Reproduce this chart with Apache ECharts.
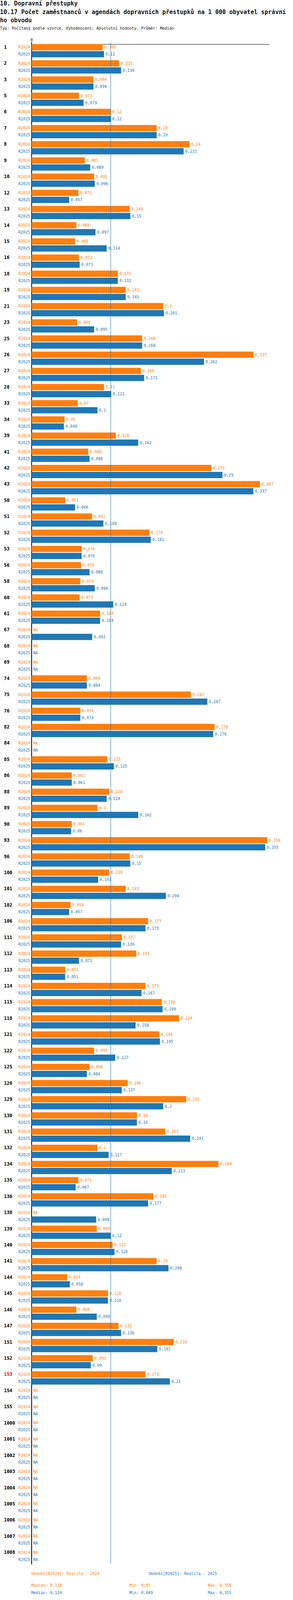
<!DOCTYPE html>
<html lang="cs">
<head>
  <meta charset="UTF-8">
  <title>10.17 Počet zaměstnanců v agendách dopravních přestupků</title>
  <script src="https://cdn.jsdelivr.net/npm/echarts@6.0.0/dist/echarts.min.js"></script>
  <style>
    html, body { margin: 0; padding: 0; background: #fff; overflow: hidden; }
  </style>
</head>
<body>
  <div id="chart" style="width: 750px; height: 4152px;"></div>
<script>
  // obvody
  const categories = ['1', '2', '3', '5', '6', '7', '8', '9', '10', '12',
    '13', '14', '15', '16', '18', '19', '21', '23', '25', '26',
    '27', '28', '33', '34', '39', '41', '42', '43', '50', '51',
    '52', '53', '56', '58', '60', '61', '67', '68', '69', '74',
    '75', '76', '82', '84', '85', '86', '88', '89', '90', '93',
    '96', '100', '101', '102', '106', '111', '112', '113', '114', '115',
    '118', '121', '122', '125', '126', '129', '130', '131', '132', '134',
    '135', '136', '138', '139', '140', '141', '144', '145', '146', '147',
    '151', '152', '153', '154', '155', '1000', '1001', '1002', '1003', '1004',
    '1005', '1006', '1007', '1008']

  // null = NA
  const r2024 = [0.108, 0.133, 0.094, 0.072, 0.12, 0.19, 0.24, 0.081, 0.095, 0.071,
    0.149, 0.068, 0.066, 0.072, 0.131, 0.143, 0.2, 0.069, 0.168, 0.337,
    0.166, 0.11, 0.07, 0.05, 0.128, 0.086, 0.273, 0.347, 0.051, 0.092,
    0.179, 0.076, 0.075, 0.074, 0.073, 0.104, null, null, null, 0.084,
    0.242, 0.074, 0.278, null, 0.115, 0.061, 0.118, 0.1, 0.061, 0.358,
    0.149, 0.118, 0.143, 0.059, 0.177, 0.137, 0.159, 0.051, 0.173, 0.198,
    0.224, 0.194, 0.095, 0.088, 0.146, 0.235, 0.16, 0.203, 0.1, 0.284,
    0.071, 0.185, null, 0.099, 0.123, 0.19, 0.054, 0.116, 0.068, 0.132,
    0.216, 0.093, 0.173, null, null, null, null, null, null, null,
    null, null, null, null]

  const r2025 = [0.11, 0.136, 0.094, 0.079, 0.12, 0.19, 0.231, 0.089, 0.096, 0.057,
    0.15, 0.097, 0.114, 0.073, 0.131, 0.143, 0.201, 0.095, 0.168, 0.262,
    0.171, 0.121, 0.1, 0.049, 0.162, 0.088, 0.29, 0.337, 0.066, 0.109,
    0.181, 0.076, 0.088, 0.096, 0.124, 0.104, 0.092, null, null, 0.084,
    0.267, 0.074, 0.276, null, 0.125, 0.061, 0.114, 0.162, 0.06, 0.355,
    0.15, 0.101, 0.204, 0.057, 0.173, 0.136, 0.072, 0.051, 0.167, 0.199,
    0.158, 0.195, 0.127, 0.084, 0.137, 0.2, 0.16, 0.241, 0.117, 0.213,
    0.067, 0.177, 0.098, 0.12, 0.126, 0.208, 0.058, 0.116, 0.099, 0.136,
    0.191, 0.09, 0.21, null, null, null, null, null, null, null,
    null, null, null, null]

  const periods = ['R2024', 'R2025']
  const periodNames = ['Období[R2024]: Realita - 2024', 'Období[R2025]: Realita - 2025']
  const medians = [0.118, 0.124]
  const highlight = '153'

  const ORANGE = '#ff7f0e'
  const BLUE = '#1f77b4'
  const MONO = '"DejaVu Sans Mono", monospace'

  // okno muze byt nizsi nez 4152, vse svisle prepocitame
  const H = Math.min(window.innerHeight || 4152, 4152)
  const sy = H / 4152
  const Y = v => Math.round(v * sy)
  document.getElementById('chart').style.height = H + 'px'

  const fmt = v => String(+v.toFixed(3)).replace('.', ',')
  const clean = arr => arr.filter(v => v !== null)

  function barSeries(name, values, color) {
    return {
      name: name,
      type: 'bar',
      z: 3,
      barWidth: 16,
      barGap: '12.5%',
      itemStyle: { color: color },
      label: {
        show: true,
        position: 'right',
        distance: 4,
        color: color,
        fontSize: 10,
        fontFamily: MONO,
        formatter: p => p.data.na ? 'NA' : fmt(p.value)
      },
      data: values.map(v => v === null ? { value: 0, na: true } : { value: v })
    }
  }

  // medianova cara za sloupci
  function medianSeries(value, color) {
    return {
      type: 'line',
      z: 1,
      data: [],
      silent: true,
      markLine: {
        silent: true,
        symbol: 'none',
        label: { show: false },
        lineStyle: { color: color, width: 1, type: 'solid' },
        data: [{ xAxis: value }]
      }
    }
  }

  const stats = [r2024, r2025].map((arr, i) => ({
    med: medians[i],
    min: Math.min(...clean(arr)),
    max: Math.max(...clean(arr))
  }))
  const colors = [ORANGE, BLUE]

  // texty pod grafem
  const graphics = []
  periodNames.forEach((t, i) => {
    graphics.push({
      type: 'text', left: [80, 381][i], top: Y(4084) - 6,
      style: { text: t, fill: colors[i], font: '10px ' + MONO }
    })
  })
  stats.forEach((s, i) => {
    const texts = ['Medián: ' + fmt(s.med), 'Min: ' + fmt(s.min), 'Max: ' + fmt(s.max)]
    texts.forEach((t, j) => {
      graphics.push({
        type: 'text', left: [80, 331, 532][j], top: Y(4114 + i * 20) - 6,
        style: { text: t, fill: colors[i], font: '10px ' + MONO }
      })
    })
  })

  const labelRich = {
    n: { width: 37, align: 'left', fontWeight: 'bold', fontSize: 12, color: '#000', lineHeight: 18, fontFamily: MONO },
    nr: { width: 37, align: 'left', fontWeight: 'bold', fontSize: 12, color: '#ff0000', lineHeight: 18, fontFamily: MONO },
    s: { width: 37, fontSize: 10, lineHeight: 18, fontFamily: MONO },
    a: { color: ORANGE, fontSize: 10, lineHeight: 18, fontFamily: MONO },
    b: { color: BLUE, fontSize: 10, lineHeight: 18, fontFamily: MONO }
  }

  const gridTop = Y(110)
  const gridH = Math.round(categories.length * 42 * sy)

  let myCharts = echarts.init(document.getElementById('chart'), null, { renderer: 'svg' })
  let option = {
    animation: false,
    backgroundColor: '#fff',
    title: [
      {
        text: '10. Dopravní přestupky',
        left: 0, top: 0, padding: 0,
        textStyle: { fontFamily: MONO, fontWeight: 'bold', fontSize: 15, color: '#111', lineHeight: 18 }
      },
      {
        text: '10.17 Počet zaměstnanců v agendách dopravních přestupků na 1 000 obyvatel správní\nho obvodu',
        left: 0, top: 20, padding: 0,
        textStyle: { fontFamily: MONO, fontWeight: 'bold', fontSize: 15, color: '#111', lineHeight: 21 }
      },
      {
        text: 'Typ: Počítaný podle vzorce, Vyhodnocení: Absolutní hodnoty, Průměr: Medián',
        left: 0, top: 66, padding: 0,
        textStyle: { fontFamily: MONO, fontWeight: 'normal', fontSize: 10, color: '#111', lineHeight: 12 }
      }
    ],
    grid: {
      left: 81, right: 61, top: gridTop, bottom: H - gridTop - gridH,
      containLabel: false, outerBoundsMode: 'none'
    },
    xAxis: {
      type: 'value',
      position: 'top',
      offset: -4,
      min: 0,
      max: 0.361,
      axisLine: { show: true, lineStyle: { color: '#000', width: 1 } },
      axisTick: { show: false },
      splitLine: { show: false },
      axisLabel: {
        margin: 6,
        fontSize: 10,
        fontFamily: MONO,
        color: '#000',
        formatter: v => v === 0 ? '0' : ''
      }
    },
    yAxis: {
      type: 'category',
      inverse: true,
      data: categories,
      axisLine: { show: true, lineStyle: { color: '#000', width: 2 } },
      axisTick: { show: false },
      axisLabel: {
        interval: 0,
        margin: 4,
        fontFamily: MONO,
        formatter: v => '{' + (v === highlight ? 'nr' : 'n') + '|' + v + '}{a|' + periods[0] + '}\n{s| }{b|' + periods[1] + '}',
        rich: labelRich
      }
    },
    series: [
      medianSeries(medians[0], ORANGE),
      medianSeries(medians[1], BLUE),
      barSeries(periods[0], r2024, ORANGE),
      barSeries(periods[1], r2025, BLUE)
    ],
    graphic: graphics
  }
  myCharts.setOption(option)
</script>
</body>
</html>
